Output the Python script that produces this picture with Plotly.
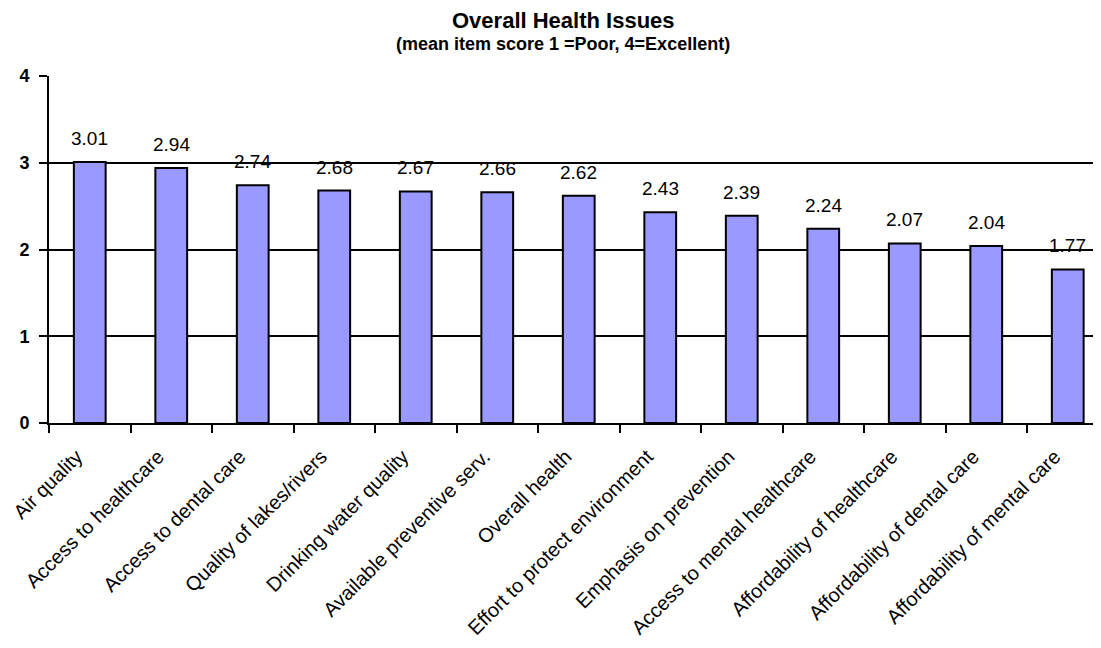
import plotly.graph_objects as go

categories = ["Air quality", "Access to healthcare", "Access to dental care",
              "Quality of lakes/rivers", "Drinking water quality",
              "Available preventive serv.", "Overall health",
              "Effort to protect environment", "Emphasis on prevention",
              "Access to mental healthcare", "Affordability of healthcare",
              "Affordability of dental care", "Affordability of mental care"]
values = [3.01, 2.94, 2.74, 2.68, 2.67, 2.66, 2.62, 2.43, 2.39, 2.24, 2.07, 2.04, 1.77]
y_ticks = [0, 1, 2, 3, 4]

FONT = "Liberation Sans, Arial, sans-serif"

fig = go.Figure()
fig.add_trace(go.Bar(
    x=categories, y=values,
    marker=dict(color="#9999FF", line=dict(color="black", width=2)),
    width=0.39,
))

annotations = []
for c, v in zip(categories, values):
    annotations.append(dict(x=c, y=v, xref="x", yref="y", text=f"{v:.2f}",
                            showarrow=False, yanchor="bottom", yshift=11,
                            font=dict(family=FONT, size=19, color="black")))
annotations.append(dict(x=0.489, y=(423 - 20) / 347, xref="paper", yref="paper",
                        text="<b>Overall Health Issues</b>", showarrow=False,
                        xanchor="center", yanchor="middle",
                        font=dict(family=FONT, size=22, color="black")))
annotations.append(dict(x=0.489, y=(423 - 43.5) / 347, xref="paper", yref="paper",
                        text="<b>(mean item score 1 =Poor, 4=Excellent)</b>", showarrow=False,
                        xanchor="center", yanchor="middle",
                        font=dict(family=FONT, size=18, color="black")))

fig.update_layout(
    width=1093, height=640,
    margin=dict(l=41, r=0, t=68, b=225, pad=0),
    plot_bgcolor="white", paper_bgcolor="white",
    showlegend=False,
    annotations=annotations,
    font=dict(family=FONT, color="black"),
    xaxis=dict(
        range=[-0.5, -0.5 + 1052 / 81.5],
        tickangle=-45, tickfont=dict(family=FONT, size=20, color="black"),
        showline=True, linecolor="black", linewidth=2,
        ticks="outside", ticklen=8, tickwidth=2, tickcolor="black",
        tickson="boundaries", showgrid=False, zeroline=False,
        automargin=False, ticklabelstandoff=12, ticklabelshift=-13,
    ),
    yaxis=dict(
        range=[0, 4], tickvals=y_ticks, ticktext=[str(t) for t in y_ticks],
        tickfont=dict(family=FONT, size=18, color="black", weight="bold"),
        showline=True, linecolor="black", linewidth=2,
        ticks="outside", ticklen=8, tickwidth=2, tickcolor="black",
        showgrid=True, gridcolor="black", gridwidth=2,
        zeroline=False, ticklabelstandoff=6, automargin=False,
    ),
)

fig.write_html("out.html")
